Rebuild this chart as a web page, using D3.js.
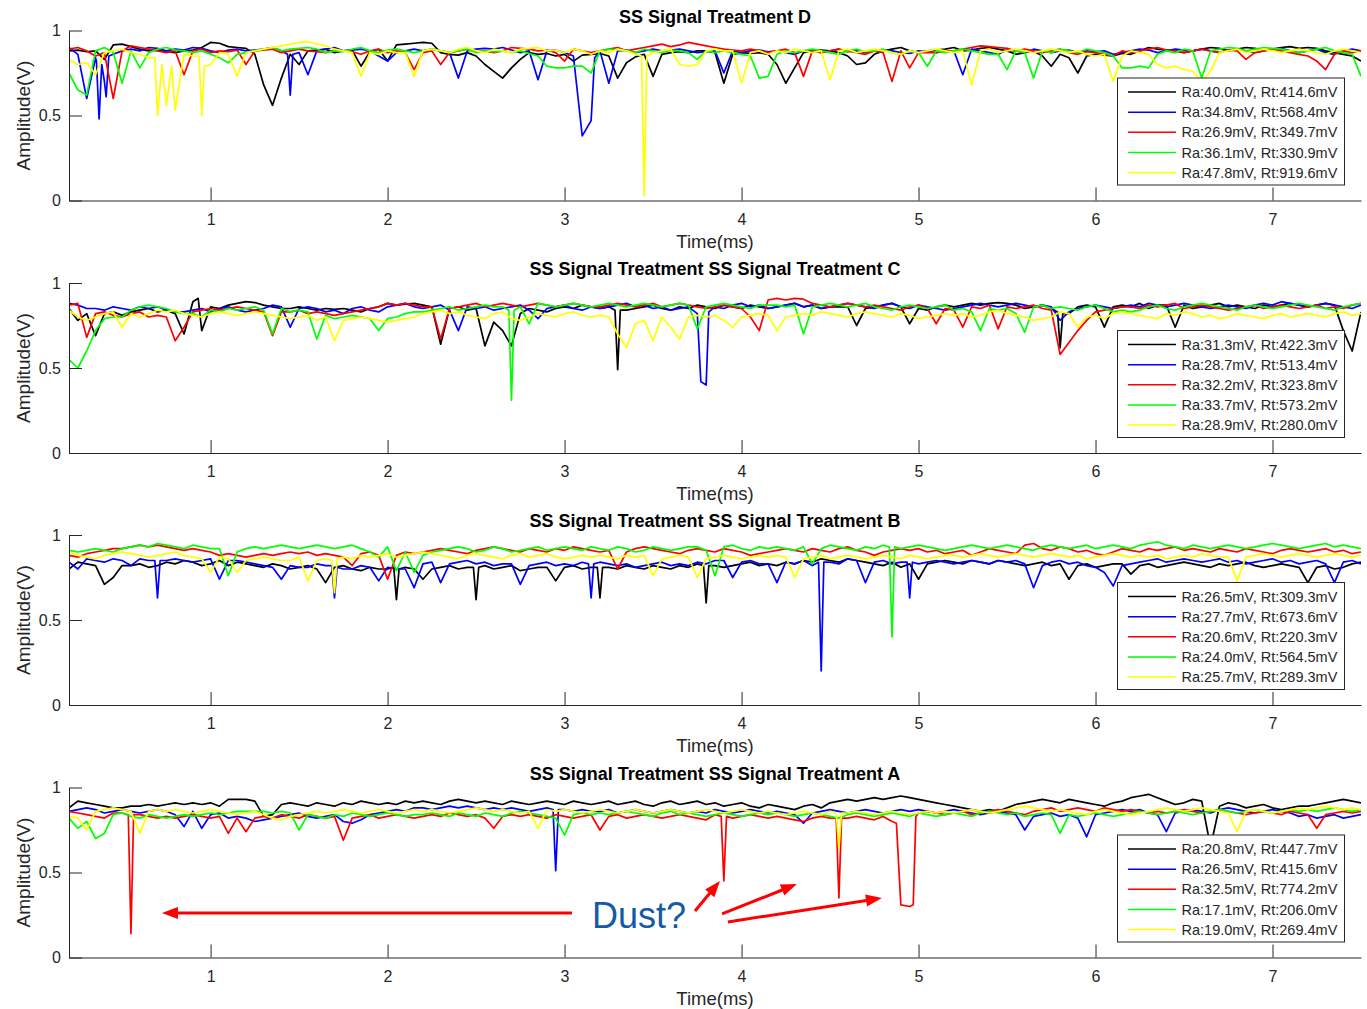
<!DOCTYPE html>
<html><head><meta charset="utf-8">
<script src="https://cdn.jsdelivr.net/npm/d3@7"></script>
<style>body{margin:0;background:#fff}svg text{font-family:"Liberation Sans",Arial,Helvetica,sans-serif}</style>
</head><body><svg id="c" width="1367" height="1009"></svg>
<script>
// ---------- data (amplitudes in mV, sampled every 0.05 ms from 0.2 ms) ----------
const sampleStart = 0.2, sampleStep = 0.05;
const timeDomain = [0.2, 7.5];
const xTicks = [1, 2, 3, 4, 5, 6, 7];
const yTicks = [0, 500, 1000];
const yTickLabels = ["0", "0.5", "1"];
const seriesColors = ["#000000", "#0000ff", "#ff0000", "#00ff00", "#ffff00"];
const panelTitles = ["SS Signal Treatment D", "SS Signal Treatment SS Signal Treatment C", "SS Signal Treatment SS Signal Treatment B", "SS Signal Treatment SS Signal Treatment A"];
const xLabel = "Time(ms)", yLabel = "Amplitude(V)";
const legendD = ["Ra:40.0mV, Rt:414.6mV", "Ra:34.8mV, Rt:568.4mV", "Ra:26.9mV, Rt:349.7mV", "Ra:36.1mV, Rt:330.9mV", "Ra:47.8mV, Rt:919.6mV"];
const legendC = ["Ra:31.3mV, Rt:422.3mV", "Ra:28.7mV, Rt:513.4mV", "Ra:32.2mV, Rt:323.8mV", "Ra:33.7mV, Rt:573.2mV", "Ra:28.9mV, Rt:280.0mV"];
const legendB = ["Ra:26.5mV, Rt:309.3mV", "Ra:27.7mV, Rt:673.6mV", "Ra:20.6mV, Rt:220.3mV", "Ra:24.0mV, Rt:564.5mV", "Ra:25.7mV, Rt:289.3mV"];
const legendA = ["Ra:20.8mV, Rt:447.7mV", "Ra:26.5mV, Rt:415.6mV", "Ra:32.5mV, Rt:774.2mV", "Ra:17.1mV, Rt:206.0mV", "Ra:19.0mV, Rt:269.4mV"];

// Treatment D
const D_black = [880,885,875,880,830,915,920,905,890,880,885,875,870,880,885,900,930,925,905,900,
895,860,680,560,720,860,800,880,885,890,870,880,885,790,875,890,820,915,920,925,
930,925,870,860,855,870,850,800,760,720,780,830,870,860,865,850,860,820,855,860,
865,850,720,810,845,860,730,860,870,875,870,880,880,870,690,860,870,865,870,860,
800,690,780,870,880,885,880,870,850,800,810,860,880,890,900,880,870,880,885,890,
900,880,885,895,900,890,880,860,870,880,850,790,860,840,750,850,860,855,850,865,
860,880,900,890,885,880,870,880,890,900,895,880,890,900,895,885,890,900,905,895,
900,895,880,870,860,850,820];
const D_blue = [900,860,600,840,700,860,880,890,880,900,895,880,890,885,900,895,880,870,885,890,
880,885,890,900,880,620,870,740,880,890,900,880,885,890,880,850,820,870,880,890,
880,890,880,870,720,880,890,895,890,900,885,870,880,710,880,885,870,850,380,470,
880,690,880,885,870,880,890,880,885,890,880,870,875,880,750,880,870,880,885,875,
880,870,860,880,885,870,880,890,875,880,870,880,885,880,870,865,880,875,870,880,
880,740,890,880,870,860,885,880,870,890,880,870,880,885,870,880,875,880,860,870,
880,890,885,870,880,890,885,880,890,880,870,885,890,880,870,880,890,895,880,870,
880,890,870,860,880,890,880];
const D_red = [890,900,880,850,870,600,880,910,900,890,880,870,880,740,880,890,870,880,875,885,
800,880,885,890,870,880,890,880,875,870,885,880,875,860,880,890,870,880,870,770,
870,880,800,870,880,890,875,880,870,880,900,895,890,880,885,870,820,890,880,870,
880,890,900,880,890,900,910,920,905,915,930,920,910,900,890,885,880,890,880,870,
880,890,870,730,880,870,880,890,880,870,860,880,870,700,880,780,870,870,870,880,
880,890,900,910,905,900,895,880,890,880,870,880,890,870,860,875,870,860,850,880,
870,880,890,900,885,880,870,880,890,880,870,885,880,830,870,880,890,880,870,860,
850,820,770,860,880,870,880];
const D_green = [750,650,620,880,900,870,690,880,780,870,890,900,885,880,870,880,860,840,810,860,
870,880,890,900,880,890,895,900,890,870,880,875,890,900,880,870,885,890,880,870,
880,890,880,870,880,890,870,880,875,880,870,880,865,850,790,780,780,790,790,750,
880,890,885,880,870,890,880,870,885,880,870,830,880,870,880,870,860,850,720,730,
860,880,870,880,890,880,870,860,880,890,875,880,890,870,860,880,870,790,880,870,
880,890,880,870,860,860,770,880,870,720,880,870,890,880,870,890,880,870,850,780,
780,790,780,860,880,870,890,880,720,880,890,900,895,880,890,900,895,890,880,870,
880,890,900,880,870,860,730];
const D_yellow = [830,800,810,740,870,880,890,870,860,840,500,560,530,860,850,500,800,870,860,730,
870,880,890,900,910,920,930,935,920,910,890,880,870,730,870,860,880,870,870,730,
880,890,880,870,890,900,880,870,890,880,870,890,895,900,880,885,870,890,880,860,
880,870,890,880,860,30,870,880,890,800,790,800,880,890,880,880,690,870,880,860,
880,870,890,880,870,880,710,880,890,870,880,890,880,870,860,880,870,880,890,880,
870,880,680,880,890,870,880,890,880,870,880,890,880,870,880,860,850,860,700,850,
880,870,860,800,780,790,770,760,700,760,870,880,890,870,880,890,880,870,880,890,
880,870,860,880,890,880,870];
// extra sharp-dip samples: [series index, time ms, mV]
const D_spikes = [[1,0.355,820],[1,0.37,480],[1,0.385,800],[1,0.41,610],[1,0.425,850],
[1,1.435,860],[1,1.465,860],[1,3.17,840],
[4,0.685,840],[4,0.725,800],[4,0.78,790],[4,0.935,850],[4,0.965,790],[4,3.435,850],[4,3.465,850]];

// Treatment C
const C_black = [850,780,820,690,820,830,810,830,840,850,830,840,820,700,890,720,860,850,870,880,
890,885,870,860,850,850,860,850,840,850,845,850,840,830,850,860,880,870,875,880,
870,860,640,850,860,840,850,630,770,720,630,820,850,840,830,850,860,850,870,860,
850,860,490,840,850,860,870,850,840,860,850,870,860,850,870,860,850,870,860,850,
860,870,880,860,870,850,860,860,860,750,850,860,870,880,860,760,850,840,860,870,
860,870,880,870,880,885,880,870,850,860,870,850,620,820,860,870,860,740,860,870,
860,880,850,870,870,740,870,850,860,870,880,860,870,860,850,870,860,870,880,870,
860,870,880,870,720,600,830];
const C_blue = [880,870,850,850,840,860,850,840,860,850,860,840,830,830,840,850,830,850,860,840,
830,840,850,870,860,740,850,860,850,830,840,820,850,860,840,830,860,870,880,860,
850,860,870,840,720,860,850,860,840,850,860,870,840,790,850,860,870,850,840,860,
850,860,870,880,860,870,850,860,840,850,860,820,400,860,850,870,880,860,870,850,
860,870,880,860,870,850,860,870,880,870,860,850,870,880,860,850,870,860,850,840,
850,860,870,880,870,860,870,880,870,860,870,860,780,830,850,860,870,860,850,860,
870,860,880,870,860,870,880,870,860,850,860,870,860,850,870,880,870,890,880,870,
860,870,880,870,860,850,870];
const C_red = [870,880,680,820,830,810,800,820,830,800,810,800,660,740,830,840,850,840,850,860,
850,840,830,690,830,830,840,820,830,820,810,820,830,840,850,860,880,870,880,870,
860,860,670,850,860,870,880,860,870,880,870,860,870,880,870,860,870,880,870,860,
860,870,880,870,860,870,880,860,870,880,870,860,850,860,870,860,850,800,720,900,
910,900,910,905,880,870,860,870,880,870,860,870,860,850,840,860,870,850,760,850,
840,740,860,850,870,730,860,850,860,870,850,840,580,650,720,780,830,840,850,860,
860,850,870,860,870,880,850,860,870,860,850,840,850,860,870,850,860,870,860,850,
860,870,850,860,850,870,880];
const C_green = [550,500,600,720,790,800,800,840,860,870,860,850,830,820,820,800,840,830,850,840,
850,860,840,700,850,830,840,830,670,810,790,800,810,800,790,720,790,800,820,830,
830,840,850,860,840,850,860,870,860,860,310,860,760,880,870,860,870,880,870,860,
870,880,870,860,870,880,870,860,870,880,870,730,860,870,880,870,860,850,870,870,
870,860,870,700,860,870,880,870,860,870,880,860,850,840,860,870,860,850,860,870,
840,850,830,720,850,840,850,820,710,860,870,850,860,850,840,860,870,850,830,840,
830,840,860,870,850,840,860,870,880,870,860,850,840,860,870,860,850,860,870,880,
870,860,850,840,860,870,880];
const C_yellow = [840,800,780,800,820,830,740,820,800,820,840,830,840,820,810,800,820,830,820,810,
820,830,820,810,800,790,800,810,780,800,660,780,790,800,790,780,770,780,790,800,
820,830,840,820,830,810,800,790,820,830,790,780,800,820,810,800,820,830,810,800,
810,800,700,620,760,780,660,800,740,670,800,810,800,810,780,740,800,810,820,810,
720,800,810,820,810,830,820,810,800,820,830,820,810,800,820,810,790,800,810,820,
810,820,800,810,830,840,820,810,800,780,790,800,830,820,740,800,810,790,820,830,
820,810,800,790,820,810,830,820,800,810,790,800,820,810,800,790,810,820,800,810,
820,810,800,820,830,810,820];
const C_spikes = [[0,0.93,910],[0,3.285,840],[0,3.315,840],[0,5.785,830],[0,5.815,820],
[3,2.685,840],[3,2.715,840],[1,3.77,420],[1,3.815,830]];

// Treatment B
const B_black = [800,840,830,820,710,750,820,820,830,810,820,840,830,850,840,820,830,850,820,840,
830,820,810,830,820,800,810,820,800,720,810,820,800,790,810,800,800,620,810,800,
740,800,810,820,800,810,620,820,800,810,820,790,800,810,810,730,810,820,800,810,
630,810,800,820,810,800,820,810,800,820,810,830,600,820,810,820,830,840,820,830,
820,840,830,850,840,860,850,840,860,850,840,830,820,840,810,830,740,830,840,850,
840,830,850,840,830,850,840,830,820,830,840,820,830,740,820,830,810,820,830,830,
770,820,830,810,820,830,840,830,820,810,830,820,830,840,820,810,820,830,820,810,
720,810,820,800,810,830,840];
const B_blue = [840,800,860,850,840,860,850,820,860,850,630,850,860,850,840,850,860,740,850,850,
840,830,820,810,740,820,810,810,830,820,630,800,800,820,810,730,810,800,800,690,
830,840,720,830,840,850,830,840,820,830,830,710,820,830,840,820,830,820,840,630,
840,830,820,830,810,820,830,840,820,830,820,840,830,850,850,750,840,850,830,830,
720,840,830,850,820,200,840,830,860,850,720,840,850,830,840,630,830,840,850,840,
830,840,850,840,830,850,840,850,830,690,820,840,850,830,840,820,810,780,700,820,
830,840,850,860,840,850,860,850,840,850,860,840,850,830,840,850,860,840,850,830,
840,850,830,720,840,850,830];
const B_red = [880,870,890,900,910,920,920,930,940,930,940,930,920,910,920,910,900,880,890,880,
870,880,890,880,890,900,890,900,880,890,880,870,820,890,900,880,740,880,900,890,
900,910,920,910,900,890,910,920,930,920,910,900,920,910,900,920,910,930,920,910,
900,910,800,900,920,930,920,910,900,890,910,920,910,900,920,910,900,880,890,900,
910,920,910,900,920,910,900,920,930,910,900,880,900,910,920,910,920,900,910,890,
900,910,880,900,920,910,900,890,940,950,920,910,930,920,900,910,890,880,900,920,
910,900,920,910,920,930,910,920,910,900,920,910,900,920,910,900,890,910,920,910,
900,910,920,900,910,890,900];
const B_green = [910,900,910,920,910,900,920,930,940,930,950,940,930,920,940,930,920,920,760,900,
920,930,920,930,940,930,920,930,940,930,920,930,940,920,900,870,930,790,900,780,
880,900,910,920,930,920,900,910,930,920,900,910,920,930,910,920,930,920,910,930,
920,910,930,920,900,910,930,920,910,920,930,930,910,760,930,940,920,910,930,920,
930,920,910,930,830,920,940,930,920,910,930,920,940,400,920,930,940,930,920,910,
920,930,940,930,920,930,940,930,920,910,930,940,930,920,930,940,920,930,940,930,
920,940,950,960,940,930,920,940,930,920,930,940,930,920,930,940,950,940,930,920,
930,940,950,930,940,930,920];
const B_yellow = [900,880,870,860,880,890,900,890,880,870,880,890,900,880,870,860,780,870,860,780,
850,860,870,860,850,850,870,730,850,860,660,870,860,880,870,880,890,870,880,890,
900,890,880,870,860,880,890,880,870,860,880,890,870,880,890,870,860,870,880,870,
880,870,860,880,870,880,760,860,870,880,870,750,860,870,880,870,860,870,880,870,
880,870,750,860,870,880,860,870,880,870,860,870,880,870,860,880,870,860,870,880,
880,870,880,890,880,870,880,890,880,870,880,890,880,870,880,860,870,880,890,880,
870,880,870,880,860,870,880,870,890,880,870,870,730,870,880,890,880,870,880,890,
880,870,880,890,880,870,880];
const B_spikes = [[1,0.685,850],[1,0.715,850],[1,1.685,820],[1,1.715,810],[1,3.135,830],[1,3.165,830],
[1,4.435,840],[1,4.465,840],[1,4.935,840],[1,4.965,840],
[0,2.035,810],[0,2.065,800],[0,2.485,810],[0,2.515,810],[0,3.185,810],[0,3.215,810],[0,3.785,820],[0,3.815,820],
[3,4.835,930],[3,4.865,930],[4,1.685,850],[4,1.715,860]];

// Treatment A
const A_black = [880,920,910,900,890,880,880,890,890,900,890,900,910,900,910,900,910,890,930,930,
930,920,830,840,900,910,900,890,910,900,890,910,900,920,910,900,910,900,920,910,
920,910,900,920,930,920,910,920,910,900,920,910,900,910,920,910,900,920,910,900,
910,920,900,910,920,900,890,910,920,900,910,920,900,910,890,900,910,890,880,900,
890,880,870,890,900,880,910,920,930,920,930,940,930,940,950,940,930,920,910,900,
890,880,870,860,870,860,880,900,910,920,930,920,910,930,920,910,900,890,910,920,
940,950,960,940,920,900,910,930,920,650,890,910,900,880,890,900,880,870,880,890,
890,900,910,920,930,920,910];
const A_blue = [860,870,880,870,850,860,870,860,850,860,870,860,840,770,860,760,840,850,820,830,
820,800,810,820,830,840,850,830,820,830,840,800,790,810,840,850,860,870,860,880,
880,870,880,890,880,890,880,870,880,870,880,870,860,870,880,510,870,860,870,860,
860,870,850,860,870,860,850,860,870,860,850,860,850,870,860,850,860,870,860,850,
860,850,840,790,850,860,870,860,850,860,870,860,850,860,870,860,870,860,850,860,
870,860,850,840,850,860,850,840,750,830,840,850,830,840,820,710,840,850,860,870,
860,870,850,840,740,850,860,870,860,850,870,880,870,860,850,860,870,860,850,830,
840,820,830,840,820,830,840];
const A_red = [860,850,840,830,820,850,850,140,840,830,820,830,820,830,840,830,820,830,730,820,
740,820,830,820,840,830,820,840,830,820,830,690,820,830,840,820,830,840,830,820,
830,840,830,850,840,830,840,820,760,830,840,830,840,830,820,840,830,820,830,840,
750,830,840,820,830,840,830,820,830,840,830,820,810,840,450,820,830,840,830,820,
830,820,810,800,820,830,820,350,820,830,820,810,830,800,310,300,850,860,850,840,
850,860,840,850,860,870,860,850,840,860,870,880,860,870,880,870,860,880,870,860,
870,860,850,860,850,860,870,860,850,860,870,860,850,840,850,860,850,840,860,850,
840,760,840,850,860,850,860];
const A_green = [820,760,800,700,730,840,850,830,820,840,830,820,830,840,830,840,850,840,850,860,
860,860,860,850,860,850,750,840,830,820,840,830,850,840,830,840,850,840,830,840,
840,850,840,830,850,840,830,850,840,830,850,860,850,840,830,820,720,840,850,840,
850,840,850,860,850,840,830,850,860,840,850,840,830,840,850,840,830,840,850,840,
850,840,830,840,850,840,830,820,840,850,840,830,840,850,840,830,850,840,830,840,
850,840,830,850,860,850,840,850,830,840,850,840,730,840,830,840,850,840,830,840,
850,860,850,840,850,860,850,840,850,860,870,860,850,860,870,860,850,860,870,860,
870,860,870,880,870,860,870];
const A_yellow = [830,820,750,860,870,880,870,860,730,860,870,860,870,860,850,860,870,860,850,840,
850,860,840,820,810,830,840,850,860,850,860,870,860,850,860,870,860,850,860,870,
860,870,860,850,860,870,880,870,860,870,860,850,860,760,870,860,870,860,850,860,
870,860,850,860,870,860,850,860,870,860,850,860,870,860,850,860,870,860,850,860,
850,840,850,860,850,840,860,640,850,860,850,840,850,860,850,840,850,860,850,860,
850,860,870,860,850,860,870,880,890,880,870,860,870,860,850,840,860,870,860,850,
840,850,860,870,880,870,860,870,880,870,860,850,740,860,870,860,850,860,870,880,
870,880,890,880,870,880,870];
const A_spikes = [[2,0.535,840],[2,0.565,840],[1,2.935,870],[1,2.965,870],[2,3.885,830],[2,3.915,830],
[2,4.535,820],[2,4.565,820],[2,4.875,790],[2,4.97,310],[2,4.985,830],[4,4.535,850],[4,4.565,850]];

// annotation on panel A (time ms, mV)
const dustLabel = {t: 3.155, mv: 174, text: "Dust?"};
const dustArrows = [[3.042, 262, 0.725, 262], [3.737, 274, 3.878, 450], [3.89, 256, 4.313, 432], [3.923, 209, 4.793, 350]];

// ---------- drawing ----------
const panels = [
  {title: panelTitles[0], legend: legendD, series: [D_black, D_blue, D_red, D_green, D_yellow], spikes: D_spikes},
  {title: panelTitles[1], legend: legendC, series: [C_black, C_blue, C_red, C_green, C_yellow], spikes: C_spikes},
  {title: panelTitles[2], legend: legendB, series: [B_black, B_blue, B_red, B_green, B_yellow], spikes: B_spikes},
  {title: panelTitles[3], legend: legendA, series: [A_black, A_blue, A_red, A_green, A_yellow], spikes: A_spikes}
];
const plotLeft = 69, plotRight = 1361, plotH = 170;
const panelTops = [30.5, 283, 535, 787.5];
const axisColor = "#262626";
const FONT = '"Liberation Sans", Arial, Helvetica, sans-serif';
const svg = d3.select("#c");
const defs = svg.append("defs");
const x = d3.scaleLinear().domain(timeDomain).range([plotLeft, plotRight]);
const mismatches = [];
let yA = null;

panels.forEach((p, pi) => {
  const top = panelTops[pi], bottom = top + plotH;
  const y = d3.scaleLinear().domain([0, 1000]).range([bottom, top]);
  if (pi === 3) yA = y;
  const g = svg.append("g");
  const clipId = "clip" + pi;
  defs.append("clipPath").attr("id", clipId).append("rect")
    .attr("x", plotLeft).attr("y", top - 3).attr("width", plotRight - plotLeft).attr("height", plotH + 3);
  const line = d3.line().x(d => x(d.t)).y(d => y(d.v));
  p.series.forEach((arr, si) => {
    if (arr.length !== 147) mismatches.push(pi + ":" + si + "=" + arr.length);
    const pts = arr.map((v, i) => ({t: sampleStart + i * sampleStep, v}));
    p.spikes.filter(s => s[0] === si).forEach(s => pts.push({t: s[1], v: s[2]}));
    pts.sort((a, b) => a.t - b.t);
    g.append("path").attr("d", line(pts)).attr("fill", "none")
      .attr("stroke", seriesColors[si]).attr("stroke-width", 1.7)
      .attr("stroke-linejoin", "round").attr("clip-path", `url(#${clipId})`);
  });
  // axes
  const xa = g.append("g").attr("transform", `translate(0,${bottom})`)
    .call(d3.axisBottom(x).tickValues(xTicks).tickSizeInner(-13).tickSizeOuter(0).tickPadding(13).tickFormat(d3.format("d")));
  const ya = g.append("g").attr("transform", `translate(${plotLeft},0)`)
    .call(d3.axisLeft(y).tickValues(yTicks).tickSizeInner(-13).tickSizeOuter(0).tickPadding(8).tickFormat((d, i) => yTickLabels[i]));
  [xa, ya].forEach(a => {
    a.attr("font-size", 16).attr("font-family", FONT);
    a.selectAll("path,line").attr("stroke", axisColor);
    a.selectAll("text").attr("fill", axisColor);
  });
  g.append("text").attr("x", (plotLeft + plotRight) / 2).attr("y", bottom + 47)
    .attr("text-anchor", "middle").attr("font-size", 18.5).attr("fill", axisColor).text(xLabel);
  g.append("text").attr("transform", `translate(30,${top + plotH / 2}) rotate(-90)`)
    .attr("text-anchor", "middle").attr("font-size", 19).attr("fill", axisColor).text(yLabel);
  g.append("text").attr("x", (plotLeft + plotRight) / 2).attr("y", top - 8)
    .attr("text-anchor", "middle").attr("font-size", 18).attr("font-weight", "bold").attr("fill", "#000").text(p.title);
  // legend
  const lx = 1117.5, lw = 227, lh = 107, ly = bottom - 15.5 - lh;
  const lg = g.append("g");
  lg.append("rect").attr("x", lx).attr("y", ly).attr("width", lw).attr("height", lh)
    .attr("fill", "#fff").attr("stroke", axisColor).attr("stroke-width", 1);
  p.legend.forEach((lab, i) => {
    const yy = ly + 14 + i * 20.15;
    lg.append("line").attr("x1", lx + 10.5).attr("x2", lx + 58.5).attr("y1", yy).attr("y2", yy)
      .attr("stroke", seriesColors[i]).attr("stroke-width", 1.5);
    lg.append("text").attr("x", lx + 64).attr("y", yy).attr("dy", "0.35em")
      .attr("font-size", 14.5).attr("fill", axisColor).text(lab);
  });
});

// annotation
const ann = svg.append("g");
dustArrows.forEach(a => {
  const x1 = x(a[0]), y1 = yA(a[1]), x2 = x(a[2]), y2 = yA(a[3]);
  const ang = Math.atan2(y2 - y1, x2 - x1), hl = 16, hw = 6;
  const bx = x2 - hl * Math.cos(ang), by = y2 - hl * Math.sin(ang);
  ann.append("line").attr("x1", x1).attr("y1", y1).attr("x2", bx + 2 * Math.cos(ang)).attr("y2", by + 2 * Math.sin(ang))
    .attr("stroke", "#ff0000").attr("stroke-width", 3);
  const px = -Math.sin(ang), py = Math.cos(ang);
  ann.append("path").attr("d", `M${x2},${y2}L${bx + hw * px},${by + hw * py}L${bx - hw * px},${by - hw * py}Z`)
    .attr("fill", "#ff0000");
});
ann.append("text").attr("x", x(dustLabel.t)).attr("y", yA(dustLabel.mv))
  .attr("font-size", 36).attr("fill", "#145aa5").text(dustLabel.text);

if (mismatches.length) throw new Error("length mismatch " + mismatches.join(" "));
</script></body></html>
